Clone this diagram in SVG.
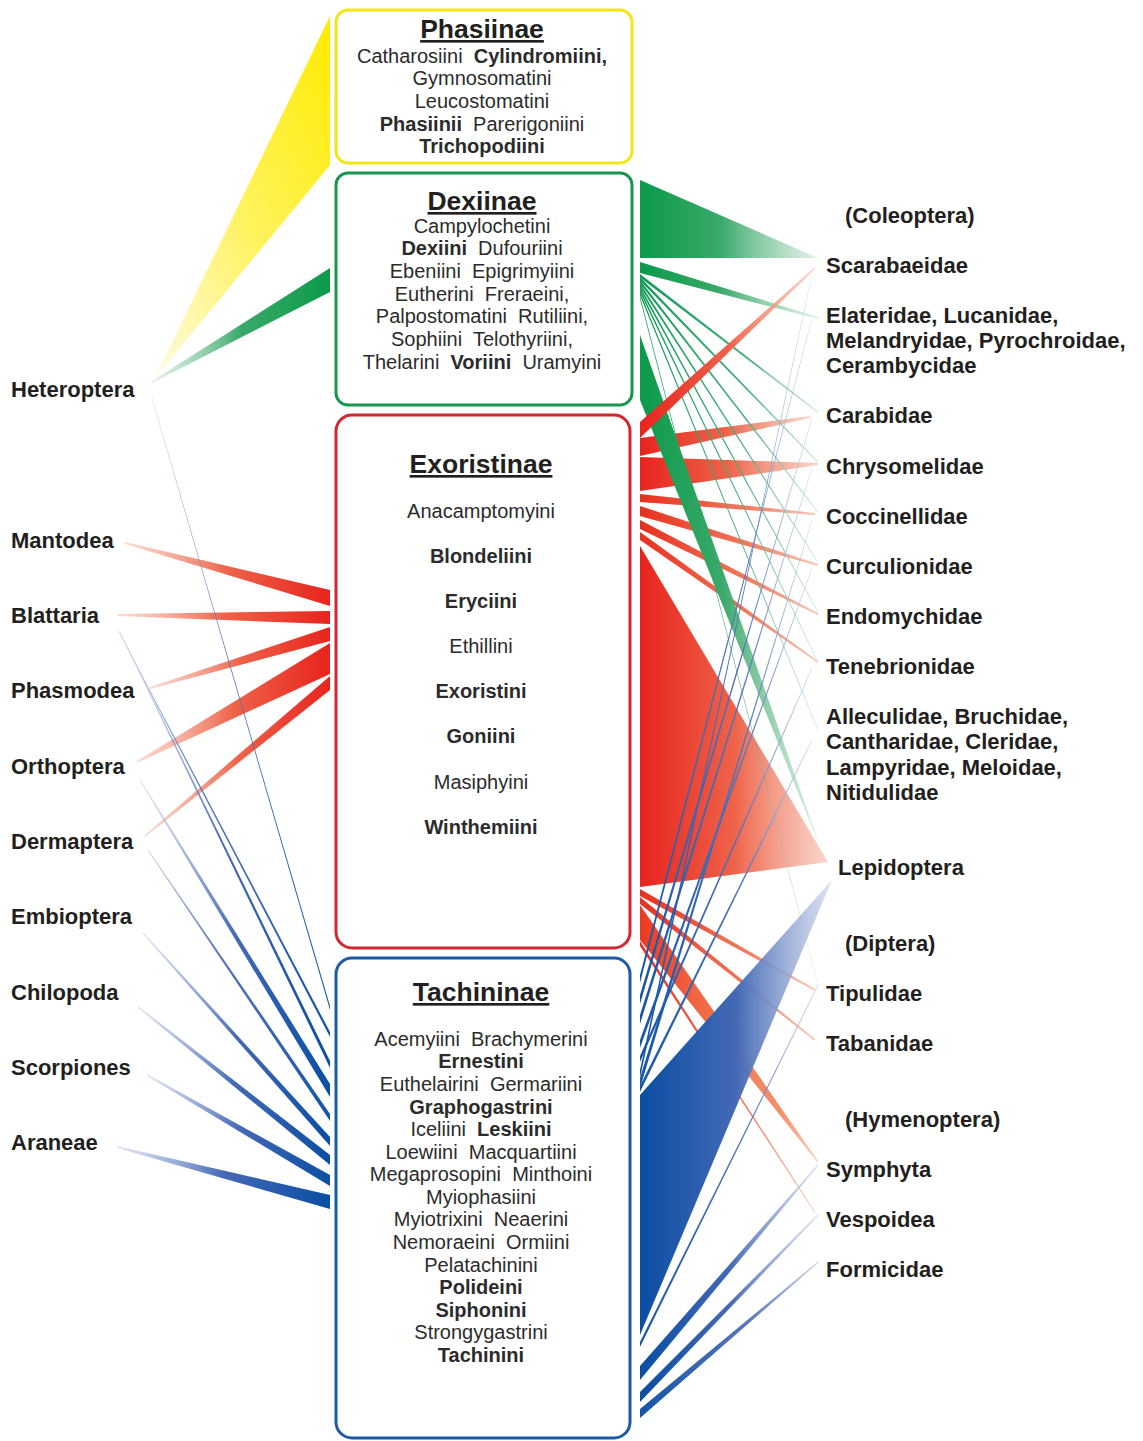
<svg xmlns="http://www.w3.org/2000/svg" width="1143" height="1441" viewBox="0 0 1143 1441">
<style>
.lbl{font-family:"Liberation Sans",Arial,sans-serif;font-weight:bold;font-size:22px;fill:#231f20}
.ttl{font-family:"Liberation Sans",Arial,sans-serif;font-weight:bold;font-size:26.5px;fill:#231f20;text-anchor:middle;text-decoration:underline}
.bd{font-family:"Liberation Sans",Arial,sans-serif;font-size:20px;fill:#2b2b2b;text-anchor:middle}
.b{font-weight:bold}
.box{fill:#ffffff;stroke-width:3}
.rR{fill:url(#redR)}.rL{fill:url(#redL)}
.gR{fill:url(#greenR)}.gL{fill:url(#greenL)}
.bR{fill:url(#blueR)}.bL{fill:url(#blueL)}
.rT{fill:url(#redT)}.oT{fill:url(#orangeT)}.gT{fill:url(#greenT)}.bT{fill:url(#blueT)}.bTL{fill:url(#blueTL)}
</style>
<defs>
<linearGradient id="redR" x1="0" y1="0" x2="1" y2="0"><stop offset="0" stop-color="#e8231d"/><stop offset="0.5" stop-color="#ee6349"/><stop offset="1" stop-color="#f6c4b3" stop-opacity="0.7"/></linearGradient>
<linearGradient id="redL" x1="1" y1="0" x2="0" y2="0"><stop offset="0" stop-color="#e8231d"/><stop offset="0.5" stop-color="#ee6349"/><stop offset="1" stop-color="#f6c4b3" stop-opacity="0.6"/></linearGradient>
<linearGradient id="greenR" x1="0" y1="0" x2="1" y2="0"><stop offset="0" stop-color="#0b9a4a"/><stop offset="0.45" stop-color="#3aa96a"/><stop offset="1" stop-color="#d6ecdd" stop-opacity="0.7"/></linearGradient>
<linearGradient id="greenL" x1="1" y1="0" x2="0" y2="0"><stop offset="0" stop-color="#0b9a4a"/><stop offset="0.5" stop-color="#3aa96a"/><stop offset="1" stop-color="#d6ecdd" stop-opacity="0.6"/></linearGradient>
<linearGradient id="blueR" x1="0" y1="0" x2="1" y2="0"><stop offset="0" stop-color="#0a4ea3"/><stop offset="0.5" stop-color="#4469b5"/><stop offset="1" stop-color="#cdd5ec" stop-opacity="0.7"/></linearGradient>
<linearGradient id="blueL" x1="1" y1="0" x2="0" y2="0"><stop offset="0" stop-color="#0a4ea3"/><stop offset="0.5" stop-color="#4469b5"/><stop offset="1" stop-color="#cdd5ec" stop-opacity="0.6"/></linearGradient>
<linearGradient id="redT" x1="0" y1="0" x2="1" y2="0"><stop offset="0" stop-color="#e8301f"/><stop offset="0.6" stop-color="#ef7a5e"/><stop offset="1" stop-color="#f5c9b8"/></linearGradient>
<linearGradient id="orangeT" x1="0" y1="0" x2="1" y2="0"><stop offset="0" stop-color="#ea3a22"/><stop offset="0.35" stop-color="#f06a45"/><stop offset="0.8" stop-color="#f3926f"/><stop offset="1" stop-color="#f8d2c2"/></linearGradient>
<linearGradient id="greenT" x1="0" y1="0" x2="1" y2="0"><stop offset="0" stop-color="#119a55"/><stop offset="0.6" stop-color="#4caf80"/><stop offset="1" stop-color="#cfe8da"/></linearGradient>
<linearGradient id="blueT" x1="0" y1="0" x2="1" y2="0"><stop offset="0" stop-color="#1454a8"/><stop offset="0.6" stop-color="#5575bb"/><stop offset="1" stop-color="#cbd3ea"/></linearGradient>
<linearGradient id="blueTL" x1="1" y1="0" x2="0" y2="0"><stop offset="0" stop-color="#1454a8"/><stop offset="0.6" stop-color="#5575bb"/><stop offset="1" stop-color="#cbd3ea"/></linearGradient>
<linearGradient id="yel" x1="1" y1="0" x2="0" y2="1"><stop offset="0" stop-color="#ffeb00"/><stop offset="0.5" stop-color="#fff25a"/><stop offset="1" stop-color="#fffbe0"/></linearGradient>
</defs>

<g id="connectors">
<!-- left: Heteroptera -->
<polygon points="330,16 330,165 155,378" fill="url(#yel)"/>
<polygon class="gL" points="330,268 330,292 152,383 152,381"/>
<!-- left red to Exoristinae -->
<polygon class="rL" points="330,590 330,606 125,544 125,542"/>
<polygon class="rL" points="330,611 330,624 118,616 118,614"/>
<polygon class="rL" points="330,627 330,641 150,689 150,687"/>
<polygon class="rL" points="330,643 330,674 137,763 137,761"/>
<polygon class="rL" points="330,676 330,690 145,837 145,835"/>
<!-- left blue to Tachininae -->
<polygon class="bTL" points="330,1006 330,1010 152,399 152,397.5"/>
<polygon class="bTL" points="330,1032 330,1037 118,631 118,629.5"/>
<polygon class="bL" points="330,1061 330,1068 120,633 120,631"/>
<polygon class="bL" points="330,1084 330,1097 140,781 140,779"/>
<polygon class="bTL" points="330,1114 330,1121 148,851 148,849.5"/>
<polygon class="bL" points="330,1137 330,1146 143,934 143,932"/>
<polygon class="bL" points="330,1155 330,1165 138,1008 138,1006"/>
<polygon class="bL" points="330,1175 330,1186 147,1076 147,1074"/>
<polygon class="bL" points="330,1195 330,1209 117,1148 117,1146"/>
<!-- right red from Exoristinae -->
<polygon class="rR" points="640,546 640,887 828,862"/>
<polygon class="rR" points="640,438 640,456 810,418 810,416"/>
<polygon class="rR" points="640,457 640,491 818,465 818,463"/>
<polygon class="rT" points="640,494 640,502 815,515 815,513"/>
<polygon class="rT" points="640,506 640,516 818,566 818,564"/>
<polygon class="rT" points="640,520 640,529 818,615 818,613"/>
<polygon class="rT" points="640,532 640,540 818,663 818,661"/>
<polygon class="rT" points="640,889 640,896 815,991 815,989"/>
<polygon class="rT" points="640,897 640,904 815,1041 815,1039"/>
<polygon class="oT" points="640,905 640,940 818,1163 818,1161"/>
<polygon class="rT" points="640,941 640,946 815,1213 815,1211.5"/>
<!-- right green from Dexiinae -->
<polygon class="gR" points="640,180 640,258 818,258"/>
<polygon class="gR" points="640,262 640,273 818,319 818,317"/>
<polygon class="gT" points="640,274 640,277.5 818,413 818,411.5"/>
<polygon class="gT" points="640,277 640,280.5 818,463 818,461.5"/>
<polygon class="gT" points="640,280 640,283.5 818,513 818,511.5"/>
<polygon class="gT" points="640,283 640,286.5 818,563 818,561.5"/>
<polygon class="gT" points="640,286 640,289.5 818,613 818,611.5"/>
<polygon class="gT" points="640,289 640,292.5 818,663 818,661.5"/>
<polygon class="gT" points="640,292 640,295.5 818,731 818,729.5"/>
<polygon class="gT" points="640,296 640,299 818,986 818,984.5"/>
<polygon class="gR" points="640,335 640,400 822,852"/>
<polygon class="rR" points="640,422 640,438 815,269 815,267"/>
<!-- right blue from Tachininae -->
<polygon class="bR" points="640,1095 640,1335 832,880"/>
<polygon class="bT" points="640,1070 640,1078 812,275 812,273.5"/>
<polygon class="bT" points="640,975 640,983 812,319 812,317.5"/>
<polygon class="bT" points="640,995 640,1004 812,419 812,417.5"/>
<polygon class="bT" points="640,1015 640,1024 812,469 812,467.5"/>
<polygon class="bT" points="640,1078 640,1088 812,521 812,519.5"/>
<polygon class="bT" points="640,1040 640,1048 812,569 812,567.5"/>
<polygon class="bT" points="640,1056 640,1062 812,669 812,667.5"/>
<polygon class="bT" points="640,1086 640,1092 812,741 812,739.5"/>
<polygon class="bT" points="640,1342 640,1347 818,986 818,984.5"/>
<polygon class="bR" points="640,1366 640,1380 818,1166 818,1164"/>
<polygon class="bR" points="640,1392 640,1402 818,1216 818,1214"/>
<polygon class="bT" points="640,1409 640,1418 818,1263 818,1261.5"/>
</g>

<g id="node-phasiinae">
<rect class="box" x="336" y="10" width="296" height="153" rx="12" stroke="#f3e617"/>
<text class="ttl" x="482" y="38">Phasiinae</text>
<text class="bd" x="482" y="63" xml:space="preserve">Catharosiini  <tspan class="b">Cylindromiini,</tspan></text>
<text class="bd" x="482" y="85">Gymnosomatini</text>
<text class="bd" x="482" y="108">Leucostomatini</text>
<text class="bd" x="482" y="131" xml:space="preserve"><tspan class="b">Phasiinii</tspan>  Parerigoniini</text>
<text class="bd b" x="482" y="153">Trichopodiini</text>
</g>

<g id="node-dexiinae">
<rect class="box" x="336" y="173" width="296" height="232" rx="12" stroke="#17964d"/>
<text class="ttl" x="482" y="210">Dexiinae</text>
<text class="bd" x="482" y="233">Campylochetini</text>
<text class="bd" x="482" y="255" xml:space="preserve"><tspan class="b">Dexiini</tspan>  Dufouriini</text>
<text class="bd" x="482" y="278" xml:space="preserve">Ebeniini  Epigrimyiini</text>
<text class="bd" x="482" y="301" xml:space="preserve">Eutherini  Freraeini,</text>
<text class="bd" x="482" y="323" xml:space="preserve">Palpostomatini  Rutiliini,</text>
<text class="bd" x="482" y="346" xml:space="preserve">Sophiini  Telothyriini,</text>
<text class="bd" x="482" y="369" xml:space="preserve">Thelarini  <tspan class="b">Voriini</tspan>  Uramyini</text>
</g>

<g id="node-exoristinae">
<rect class="box" x="336" y="415" width="294" height="533" rx="16" stroke="#d3262d"/>
<text class="ttl" x="481" y="473">Exoristinae</text>
<text class="bd" x="481" y="518">Anacamptomyini</text>
<text class="bd b" x="481" y="563">Blondeliini</text>
<text class="bd b" x="481" y="608">Eryciini</text>
<text class="bd" x="481" y="653">Ethillini</text>
<text class="bd b" x="481" y="698">Exoristini</text>
<text class="bd b" x="481" y="743">Goniini</text>
<text class="bd" x="481" y="789">Masiphyini</text>
<text class="bd b" x="481" y="834">Winthemiini</text>
</g>

<g id="node-tachininae">
<rect class="box" x="336" y="958" width="294" height="480" rx="16" stroke="#1d5aa8"/>
<text class="ttl" x="481" y="1001">Tachininae</text>
<text class="bd" x="481" y="1046" xml:space="preserve">Acemyiini  Brachymerini</text>
<text class="bd b" x="481" y="1068">Ernestini</text>
<text class="bd" x="481" y="1091" xml:space="preserve">Euthelairini  Germariini</text>
<text class="bd b" x="481" y="1114">Graphogastrini</text>
<text class="bd" x="481" y="1136" xml:space="preserve">Iceliini  <tspan class="b">Leskiini</tspan></text>
<text class="bd" x="481" y="1159" xml:space="preserve">Loewiini  Macquartiini</text>
<text class="bd" x="481" y="1181" xml:space="preserve">Megaprosopini  Minthoini</text>
<text class="bd" x="481" y="1204">Myiophasiini</text>
<text class="bd" x="481" y="1226" xml:space="preserve">Myiotrixini  Neaerini</text>
<text class="bd" x="481" y="1249" xml:space="preserve">Nemoraeini  Ormiini</text>
<text class="bd" x="481" y="1272">Pelatachinini</text>
<text class="bd b" x="481" y="1294">Polideini</text>
<text class="bd b" x="481" y="1317">Siphonini</text>
<text class="bd" x="481" y="1339">Strongygastrini</text>
<text class="bd b" x="481" y="1362">Tachinini</text>
</g>

<g id="hosts-left">
<text class="lbl" x="11" y="397">Heteroptera</text>
<text class="lbl" x="11" y="548">Mantodea</text>
<text class="lbl" x="11" y="623">Blattaria</text>
<text class="lbl" x="11" y="698">Phasmodea</text>
<text class="lbl" x="11" y="774">Orthoptera</text>
<text class="lbl" x="11" y="849">Dermaptera</text>
<text class="lbl" x="11" y="924">Embioptera</text>
<text class="lbl" x="11" y="1000">Chilopoda</text>
<text class="lbl" x="11" y="1075">Scorpiones</text>
<text class="lbl" x="11" y="1150">Araneae</text>
</g>

<g id="hosts-right">
<text class="lbl" x="845" y="223">(Coleoptera)</text>
<text class="lbl" x="826" y="273">Scarabaeidae</text>
<text class="lbl" x="826" y="323">Elateridae, Lucanidae,</text>
<text class="lbl" x="826" y="348">Melandryidae, Pyrochroidae,</text>
<text class="lbl" x="826" y="373">Cerambycidae</text>
<text class="lbl" x="826" y="423">Carabidae</text>
<text class="lbl" x="826" y="474">Chrysomelidae</text>
<text class="lbl" x="826" y="524">Coccinellidae</text>
<text class="lbl" x="826" y="574">Curculionidae</text>
<text class="lbl" x="826" y="624">Endomychidae</text>
<text class="lbl" x="826" y="674">Tenebrionidae</text>
<text class="lbl" x="826" y="724">Alleculidae, Bruchidae,</text>
<text class="lbl" x="826" y="749">Cantharidae, Cleridae,</text>
<text class="lbl" x="826" y="775">Lampyridae, Meloidae,</text>
<text class="lbl" x="826" y="800">Nitidulidae</text>
<text class="lbl" x="838" y="875">Lepidoptera</text>
<text class="lbl" x="845" y="951">(Diptera)</text>
<text class="lbl" x="826" y="1001">Tipulidae</text>
<text class="lbl" x="826" y="1051">Tabanidae</text>
<text class="lbl" x="845" y="1127">(Hymenoptera)</text>
<text class="lbl" x="826" y="1177">Symphyta</text>
<text class="lbl" x="826" y="1227">Vespoidea</text>
<text class="lbl" x="826" y="1277">Formicidae</text>
</g>
</svg>
